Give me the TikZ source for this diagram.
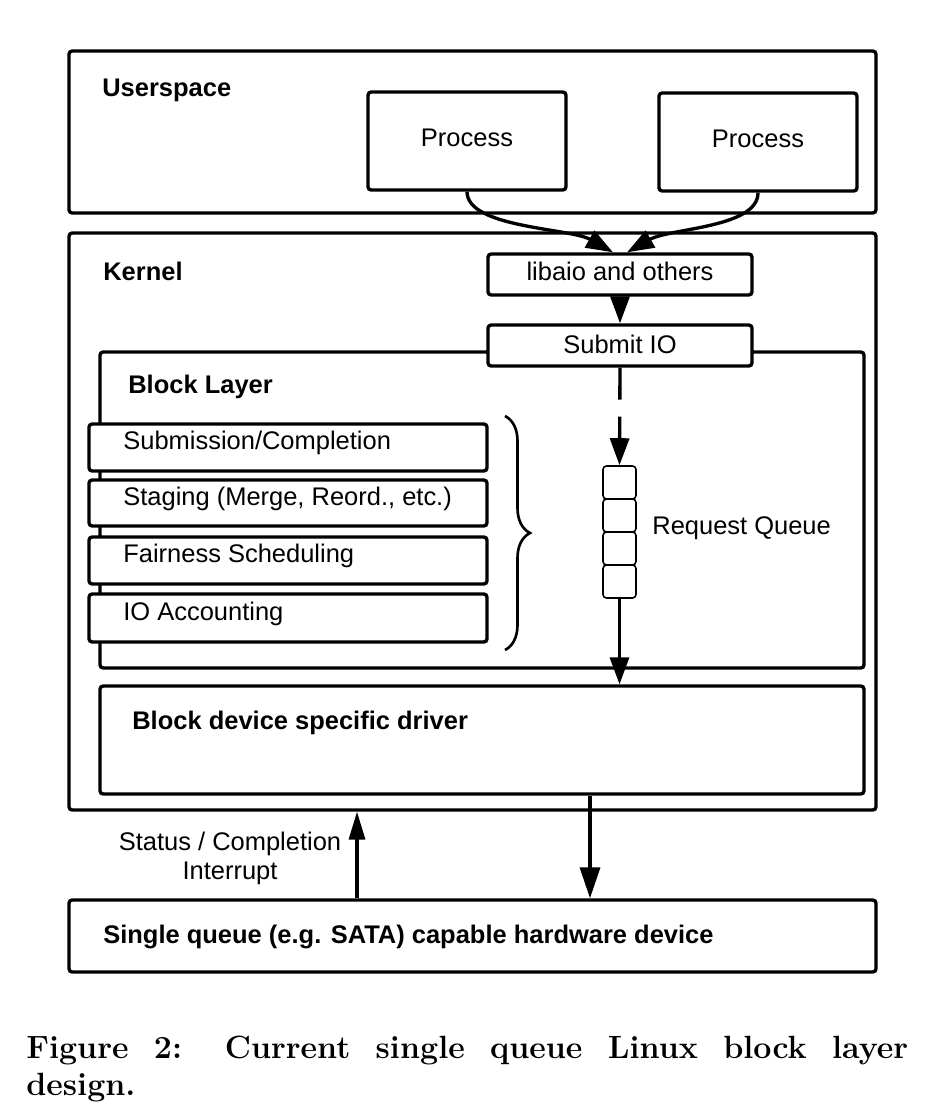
\documentclass[tikz,border=0pt]{standalone}
\usepackage{fontspec}
\newfontfamily\arial{Liberation Sans}
\usetikzlibrary{fit,arrows.meta,decorations.pathreplacing}
\begin{document}
\begin{tikzpicture}[x=0.02cm,y=-0.02cm,
  box/.style={draw, line width=1.9pt, rounded corners=1.8pt, inner sep=0pt, fill=white,
              font=\arial\fontsize{14.5}{17}\selectfont},
  lbl/.style={font=\arial\fontsize{14.5}{17}\selectfont, inner sep=0pt},
  boldlbl/.style={font=\arial\bfseries\fontsize{14.5}{17}\selectfont, inner sep=0pt, anchor=west},
  cell/.style={draw, line width=0.9pt, rounded corners=2pt, inner sep=0pt, minimum width=0.66cm, minimum height=0.66cm},
  arr/.style={line width=1.9pt, -{Triangle[length=0.54cm,width=0.38cm]}},
  barr/.style={line width=1.9pt, -{Triangle[length=0.62cm,width=0.4cm]}},
  sarr/.style={line width=1.9pt, -{Triangle[length=0.56cm,width=0.32cm]}}]
\useasboundingbox (0,0) rectangle (950,1104);
% Userspace
\node[box, fit={(69,51)(876,213)}] (user) {};
\node[boldlbl] (usert) at (102,90) {Userspace};
\node[box, fit={(368,92)(566,190)}] (p1) {};
\node[lbl] (p1t) at (467,138) {Process};
\node[box, fit={(659,93)(857,191)}] (p2) {};
\node[lbl] (p2t) at (758,139) {Process};
% Kernel
\node[box, fit={(69,233)(876,810)}] (kernel) {};
\node[boldlbl] (kernelt) at (103,271) {Kernel};
\node[box, fit={(488,254)(752,295)}] (lib) {};
\node[lbl] (libt) at (620,271) {libaio and others};
% Block layer
\node[box, fit={(100,352)(864,668)}] (blk) {};
\node[boldlbl] (blkt) at (128,387) {Block Layer};
\node[box, fit={(488,325)(752,366)}] (sub) {};
\node[lbl] (subt) at (620,344) {Submit IO};
\node[box, fit={(89,424)(487,471)}] (s1) {};
\node[lbl, anchor=west] (s1t) at (123,443) {Submission/Completion};
\node[box, fit={(89,480)(487,526)}] (s2) {};
\node[lbl, anchor=west] (s2t) at (123,499) {Staging (Merge, Reord., etc.)};
\node[box, fit={(89,537)(487,584)}] (s3) {};
\node[lbl, anchor=west] (s3t) at (123,556) {Fairness Scheduling};
\node[box, fit={(89,594)(487,642)}] (s4) {};
\node[lbl, anchor=west] (s4t) at (123,614) {IO Accounting};
\draw[line width=1.5pt, decorate, decoration={brace, amplitude=0.5cm}] (505,416) coordinate (bra) -- (505,650) coordinate (brb);
% queue
\node[cell] (q1) at (619.5,482.5) {};
\node[cell] (q2) at (619.5,515.5) {};
\node[cell] (q3) at (619.5,548.5) {};
\node[cell] (q4) at (619.5,581.5) {};
\node[lbl, anchor=west] (rq) at (652,528) {Request Queue};
% driver
\node[box, fit={(100,686)(864,794)}] (drv) {};
\node[boldlbl] (drvt) at (132,723) {Block device specific driver};
% hardware
\node[box, fit={(69,900)(876,972)}] (hw) {};
\node[boldlbl] (hwt) at (103,937) {Single queue (e.g. SATA) capable hardware device};
\node[lbl, align=center, font=\arial\fontsize{14.5}{16.4}\selectfont] (st) at (230,858) {Status / Completion\\Interrupt};
% arrows
\draw[arr] (p1.south) .. controls (467,228) and (570,228) .. ([xshift=-0.14cm]lib.north);
\draw[arr] (p2.south) .. controls (758,228) and (670,228) .. ([xshift=0.14cm]lib.north);
\draw[arr] (lib.south) -- (sub.north);
\draw[arr, dash pattern=on 0.64cm off 0.34cm on 5cm] (sub.south) -- (q1.north);
\draw[arr] (q4.south) -- (drv.north -| q4.south);
\coordinate (xdown) at (590,0);
\coordinate (xup) at (357,0);
\draw[barr] (drv.south -| xdown) -- (hw.north -| xdown);
\draw[sarr] (hw.north -| xup) -- (kernel.south -| xup);
% caption
\node[anchor=north west, inner sep=0pt, text width=17.64cm, align=justify,
      font=\bfseries\fontsize{18.3}{21}\selectfont] (cap) at (26,1036)
  {Figure 2: Current single queue Linux block layer\linebreak design.};
\end{tikzpicture}
\end{document}
